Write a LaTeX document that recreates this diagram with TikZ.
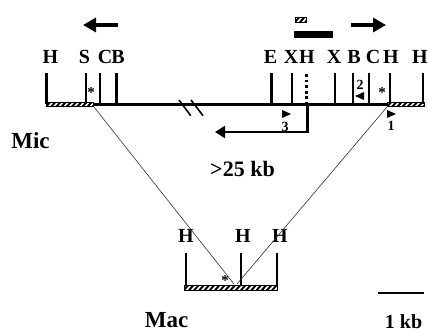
\documentclass[tikz,border=0pt]{standalone}
\usepackage{fontspec}
\setmainfont{Liberation Serif}
\usetikzlibrary{arrows.meta}
\tikzset{
  site/.style={font=\bfseries\fontsize{20}{20}\selectfont,inner sep=0pt,anchor=center},
  lab/.style={font=\bfseries\fontsize{23}{24}\selectfont,inner sep=0pt,anchor=center},
  small/.style={font=\bfseries\fontsize{14}{14}\selectfont,inner sep=0pt,anchor=center},
  star/.style={font=\bfseries\fontsize{15}{15}\selectfont,inner sep=0pt,anchor=center},
  tick/.style={line width=2.5pt},
  main/.style={line width=3pt},
  thin line/.style={line width=0.6pt,black!80},
  bigarrow/.style={line width=3.2pt,-{Triangle[length=13pt,width=14pt]}},
}
\newcommand{\hatchbar}[4]{%
  \begin{scope}
    \clip (#1,#2) rectangle (#3,#4);
    \foreach \hi in {0,...,20}{
      \draw[line width=2pt] (#1+\hi*5.2,#2-1) -- (#1+\hi*5.2-6,#4+1);
    }
  \end{scope}
  \draw[line width=1pt] (#1,#2) rectangle (#3,#4);
}
\begin{document}
\begin{tikzpicture}[x=1pt,y=-1pt]
\useasboundingbox (0,0) rectangle (428,332);
% top arrows
\coordinate (al1) at (118,25); \coordinate (al2) at (83,25);
\coordinate (ar1) at (351,25); \coordinate (ar2) at (386,25);
\draw[bigarrow] (al1) -- (al2);
\draw[bigarrow] (ar1) -- (ar2);
% probe
\hatchbar{295}{17}{306}{22}
\fill (294,31) rectangle (333,38);
% main line
\coordinate (m1) at (93,104.5); \coordinate (m2) at (388,104.5);
\draw[main] (m1) -- (m2);
\hatchbar{46}{102}{93}{106.5}
\hatchbar{387}{102}{424}{106.5}
% ticks
\foreach \n/\x in {a/46.7,b/86,c/100,d/116.5,e/271.7,f/292,h/335,i/353,j/369,k/390,l/423}{
  \coordinate (t\n) at (\x,73); \coordinate (u\n) at (\x,104);
  \draw[tick] (t\n) -- (u\n);
}
\coordinate (tg) at (306.7,74); \coordinate (ug) at (306.7,104);
\draw[line width=2.6pt,dash pattern=on 2.8pt off 2.8pt] (tg) -- (ug);
% break
\draw[line width=1.6pt] (179,100) -- (190.7,115.7);
\draw[line width=1.6pt] (191,100) -- (203,115.7);
% labels
\foreach \n/\x/\t in {1/50.5/H,2/84.5/S,3/105/C,4/118/B,5/270.5/E,6/291/X,7/307/H,8/334/X,9/354/B,10/373/C,11/391/H,12/420/H}{
  \node[site] (s\n) at (\x,57) {\t};
}
\node[lab] (mic) at (30.5,141) {Mic};
\node[lab,font=\bfseries\fontsize{22}{24}\selectfont] (kb) at (242.5,168.5) {>25 kb};
\node[lab] (mac) at (166.5,320.5) {Mac};
\node[lab,font=\bfseries\fontsize{20}{20}\selectfont] (onekb) at (403.5,322) {1 kb};
% stars
\node[star] (st1) at (91,93) {*};
\node[star] (st2) at (382,93) {*};
\node[star] (st3) at (225,281) {*};
% primers
\fill (282,110) -- (291,114) -- (282,118) -- cycle;
\node[small] (n3) at (285,127) {3};
\fill (387,110) -- (396,114) -- (387,118) -- cycle;
\node[small] (n1) at (391,126) {1};
\node[small] (n2) at (360,85) {2};
\fill (364,92) -- (355,96) -- (364,100) -- cycle;
% transcript arrow
\coordinate (r1) at (307.5,104); \coordinate (r2) at (307.5,132); \coordinate (r3) at (215,132);
\draw[line width=2.4pt,-{Triangle[length=10pt,width=12pt]}] (r1) -- (r2) -- (r3);
% Mac
\hatchbar{184}{285}{277}{290}
\foreach \n/\x in {x/186,y/241,z/277}{
  \coordinate (t\n) at (\x,253); \coordinate (u\n) at (\x,284.5);
  \draw[tick] (t\n) -- (u\n);
}
\node[site] (h1) at (186,236) {H};
\node[site] (h2) at (243,236) {H};
\node[site] (h3) at (280,236) {H};
% thin lines
\coordinate (c1) at (94,107); \coordinate (c2) at (234,284);
\coordinate (d1) at (387,107); \coordinate (d2) at (237,284);
\draw[thin line] (c1) -- (c2);
\draw[thin line] (d1) -- (d2);
% scale
\coordinate (b1) at (378,293); \coordinate (b2) at (424,293);
\draw[line width=2.6pt] (b1) -- (b2);
\end{tikzpicture}
\end{document}
